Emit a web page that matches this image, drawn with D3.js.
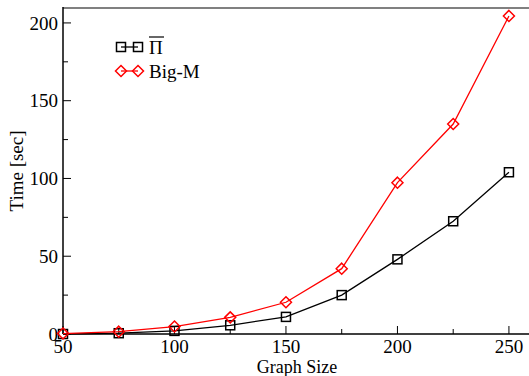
<!DOCTYPE html>
<html>
<head>
<meta charset="utf-8">
<script src="https://cdn.jsdelivr.net/npm/d3@7"></script>
<style>
  body { margin: 0; background: #fff; }
</style>
</head>
<body>
<div id="chart"></div>
<script>
var sizes = [50, 75, 100, 125, 150, 175, 200, 225, 250];
var piTimes = [0, 0.5, 2, 5.6, 11, 25, 48, 72.5, 104];
var bigMTimes = [0.3, 1.5, 4.8, 10.7, 20.4, 42, 97.3, 135, 204.5];
var seriesNames = ["\u03A0", "Big-M"];
var xTicks = [50, 100, 150, 200, 250];
var yTicks = [0, 50, 100, 150, 200];

var width = 529, height = 376;
var margin = { top: 8, right: 0, bottom: 42, left: 63 };

var svg = d3.select("#chart").append("svg")
    .attr("width", width)
    .attr("height", height)
    .attr("font-family", "'Liberation Serif', 'DejaVu Serif', serif");

var x = d3.scaleLinear().domain([50, 259]).range([margin.left, width]);
var y = d3.scaleLinear().domain([0, 209.6]).range([height - margin.bottom, margin.top]);

// frame top
svg.append("line")
    .attr("x1", margin.left).attr("x2", width)
    .attr("y1", margin.top).attr("y2", margin.top)
    .attr("stroke", "#808080").attr("stroke-width", 2);

// x axis (ticks inward)
var xAxis = svg.append("g")
    .attr("transform", "translate(0," + y(0) + ")");
xAxis.append("line")
    .attr("x1", margin.left).attr("x2", width)
    .attr("stroke", "#000").attr("stroke-width", 1.5);
xAxis.selectAll(".minor").data(d3.range(75, 260, 50)).enter().append("line")
    .attr("x1", function(d) { return x(d); }).attr("x2", function(d) { return x(d); })
    .attr("y1", 0).attr("y2", -5)
    .attr("stroke", "#000").attr("stroke-width", 1);
xAxis.selectAll(".major").data(xTicks).enter().append("line")
    .attr("x1", function(d) { return x(d); }).attr("x2", function(d) { return x(d); })
    .attr("y1", 0).attr("y2", -8)
    .attr("stroke", "#000").attr("stroke-width", 1);
xAxis.selectAll(".lbl").data(xTicks).enter().append("text")
    .attr("x", function(d) { return x(d); })
    .attr("y", 19)
    .attr("text-anchor", "middle")
    .style("font-size", "19px")
    .text(function(d) { return d; });

// y axis
var yAxis = svg.append("g")
    .attr("transform", "translate(" + margin.left + ",0)");
yAxis.append("line")
    .attr("y1", margin.top - 1).attr("y2", y(0))
    .attr("stroke", "#000").attr("stroke-width", 1.5);
yAxis.selectAll(".minor").data(d3.range(25, 210, 50)).enter().append("line")
    .attr("y1", function(d) { return y(d); }).attr("y2", function(d) { return y(d); })
    .attr("x1", 0).attr("x2", 5)
    .attr("stroke", "#000").attr("stroke-width", 1);
yAxis.selectAll(".major").data(yTicks).enter().append("line")
    .attr("y1", function(d) { return y(d); }).attr("y2", function(d) { return y(d); })
    .attr("x1", 0).attr("x2", 8)
    .attr("stroke", "#000").attr("stroke-width", 1);
yAxis.selectAll(".lbl").data(yTicks).enter().append("text")
    .attr("x", -5)
    .attr("y", function(d) { return y(d); })
    .attr("dy", "0.35em")
    .attr("text-anchor", "end")
    .style("font-size", "19px")
    .text(function(d) { return d; });

svg.append("text")
    .attr("x", 297)
    .attr("y", 373)
    .attr("text-anchor", "middle")
    .style("font-size", "18px")
    .text("Graph Size");

svg.append("text")
    .attr("transform", "translate(23,171) rotate(-90)")
    .attr("text-anchor", "middle")
    .style("font-size", "19px")
    .text("Time [sec]");

var line = d3.line()
    .x(function(d) { return x(d[0]); })
    .y(function(d) { return y(d[1]); });

var piData = sizes.map(function(s, i) { return [s, piTimes[i]]; });
var bigMData = sizes.map(function(s, i) { return [s, bigMTimes[i]]; });

svg.append("path").datum(piData)
    .attr("d", line).attr("fill", "none")
    .attr("stroke", "#000").attr("stroke-width", 1.3);
svg.append("path").datum(bigMData)
    .attr("d", line).attr("fill", "none")
    .attr("stroke", "#ff0000").attr("stroke-width", 1.3);

function square(g, cx, cy) {
    g.append("rect")
        .attr("x", cx - 4.5).attr("y", cy - 4.5)
        .attr("width", 9).attr("height", 9)
        .attr("fill", "none").attr("stroke", "#000").attr("stroke-width", 1.5);
}
function diamond(g, cx, cy) {
    g.append("path")
        .attr("d", "M" + cx + "," + (cy - 5.5) + "L" + (cx + 5.5) + "," + cy +
            "L" + cx + "," + (cy + 5.5) + "L" + (cx - 5.5) + "," + cy + "Z")
        .attr("fill", "none").attr("stroke", "#ff0000").attr("stroke-width", 1.5);
}

piData.forEach(function(d) { square(svg, x(d[0]), y(d[1])); });
bigMData.forEach(function(d) { diamond(svg, x(d[0]), y(d[1])); });

// legend
var lg = svg.append("g");
lg.append("line").attr("x1", 121).attr("x2", 138).attr("y1", 47).attr("y2", 47)
    .attr("stroke", "#000").attr("stroke-width", 1.3);
square(lg, 121, 47);
square(lg, 138, 47);
lg.append("text").attr("x", 149).attr("y", 54)
    .style("font-size", "19px")
    .text(seriesNames[0]);
lg.append("line").attr("x1", 149).attr("x2", 164).attr("y1", 37).attr("y2", 37)
    .attr("stroke", "#000").attr("stroke-width", 1.2);
lg.append("line").attr("x1", 121).attr("x2", 138).attr("y1", 71).attr("y2", 71)
    .attr("stroke", "#ff0000").attr("stroke-width", 1.3);
diamond(lg, 121, 71);
diamond(lg, 138, 71);
lg.append("text").attr("x", 149).attr("y", 78)
    .style("font-size", "19px")
    .text(seriesNames[1]);
</script>
</body>
</html>
